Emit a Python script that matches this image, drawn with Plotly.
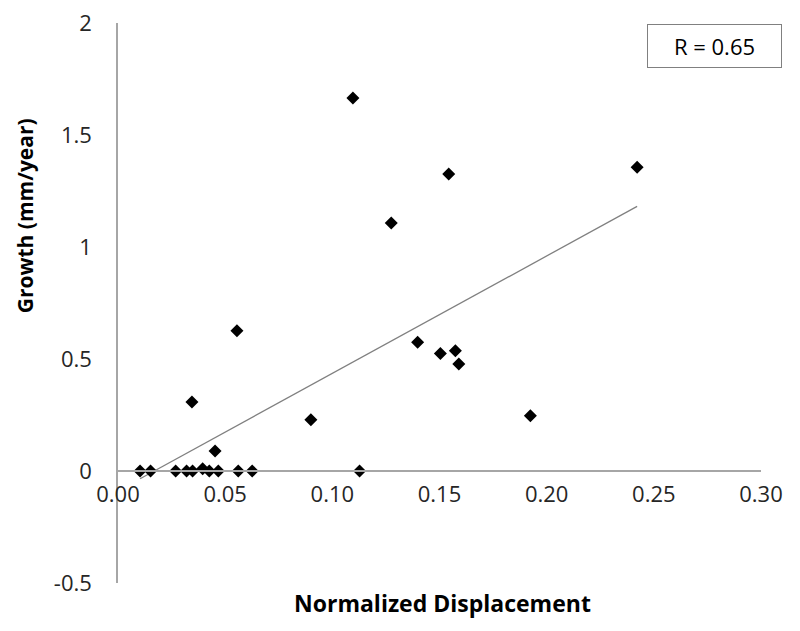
import numpy as np
import plotly.graph_objects as go

# Data
displacement = [0.0103, 0.0152, 0.0269, 0.0320, 0.0348, 0.0395, 0.0426, 0.0468,
                0.0561, 0.0626, 0.1127, 0.0453, 0.0345, 0.0555, 0.0900, 0.1096,
                0.1275, 0.1398, 0.1504, 0.1543, 0.1574, 0.1590, 0.1924, 0.2422]
growth = [0.0, 0.0, 0.0, 0.0, 0.0, 0.01, 0.0, 0.0,
          0.0, 0.0, 0.0, 0.089, 0.308, 0.626, 0.229, 1.665,
          1.107, 0.575, 0.525, 1.326, 0.537, 0.478, 0.247, 1.356]
x_ticks = [0.00, 0.05, 0.10, 0.15, 0.20, 0.25, 0.30]
x_tick_labels = ["0.00", "0.05", "0.10", "0.15", "0.20", "0.25", "0.30"]
y_ticks = [-0.5, 0, 0.5, 1, 1.5, 2]
y_tick_labels = ["-0.5", "0", "0.5", "1", "1.5", "2"]
r_label = "R = 0.65"

# Linear trendline (least squares), spanning the data range
slope, intercept = np.polyfit(displacement, growth, 1)
trend_x = [min(displacement), max(displacement)]
trend_y = [slope * v + intercept for v in trend_x]

FONT = "Open Sans"
AXIS_COLOR = "#a6a6a6"
TICK_COLOR = "#262626"

fig = go.Figure()
fig.add_trace(go.Scatter(x=trend_x, y=trend_y, mode="lines",
                         line=dict(color="#808080", width=1.3),
                         hoverinfo="skip", showlegend=False))
fig.add_trace(go.Scatter(x=displacement, y=growth, mode="markers",
                         marker=dict(symbol="diamond", size=10, color="black"),
                         showlegend=False))

y_min, y_max = -0.5, 2.0
fig.update_layout(
    width=792, height=623,
    margin=dict(l=110, r=39, t=15, b=48),
    paper_bgcolor="white", plot_bgcolor="white",
    font=dict(family=FONT, color=TICK_COLOR, size=22),
    xaxis=dict(range=[0, 0.30], tickvals=x_ticks, ticktext=x_tick_labels,
               showgrid=False, zeroline=False, showline=True,
               linecolor=AXIS_COLOR, linewidth=1.5, automargin=False,
               anchor="free", position=(0 - y_min) / (y_max - y_min),
               ticks="", ticklabelstandoff=4, ticklabeloverflow="allow",
               tickfont=dict(family=FONT, size=22, color=TICK_COLOR)),
    yaxis=dict(range=[y_min, y_max], tickvals=y_ticks, ticktext=y_tick_labels,
               showgrid=False, zeroline=False, showline=True,
               linecolor=AXIS_COLOR, linewidth=1.5, ticks="", automargin=False,
               ticklabelstandoff=20, ticklabeloverflow="allow",
               tickfont=dict(family=FONT, size=22, color=TICK_COLOR)),
    annotations=[
        dict(text="<b>Growth (mm/year)</b>", xref="paper", yref="paper",
             x=-0.1446, y=0.655, xanchor="center", yanchor="middle",
             textangle=-90, showarrow=False,
             font=dict(family=FONT, size=21, color="black")),
        dict(text="<b>Normalized Displacement</b>", xref="paper", yref="paper",
             x=0.504, y=-0.0357, xanchor="center", yanchor="middle",
             showarrow=False,
             font=dict(family=FONT, size=23, color="black")),
        dict(text=r_label, xref="paper", yref="paper",
             x=1.0327, y=0.998, xanchor="right", yanchor="top", showarrow=False,
             width=127, height=36, align="center", valign="middle",
             font=dict(family=FONT, size=22, color="black"),
             bordercolor="#808080", borderwidth=1, borderpad=3,
             bgcolor="white"),
    ],
)

fig.write_html("out.html")
